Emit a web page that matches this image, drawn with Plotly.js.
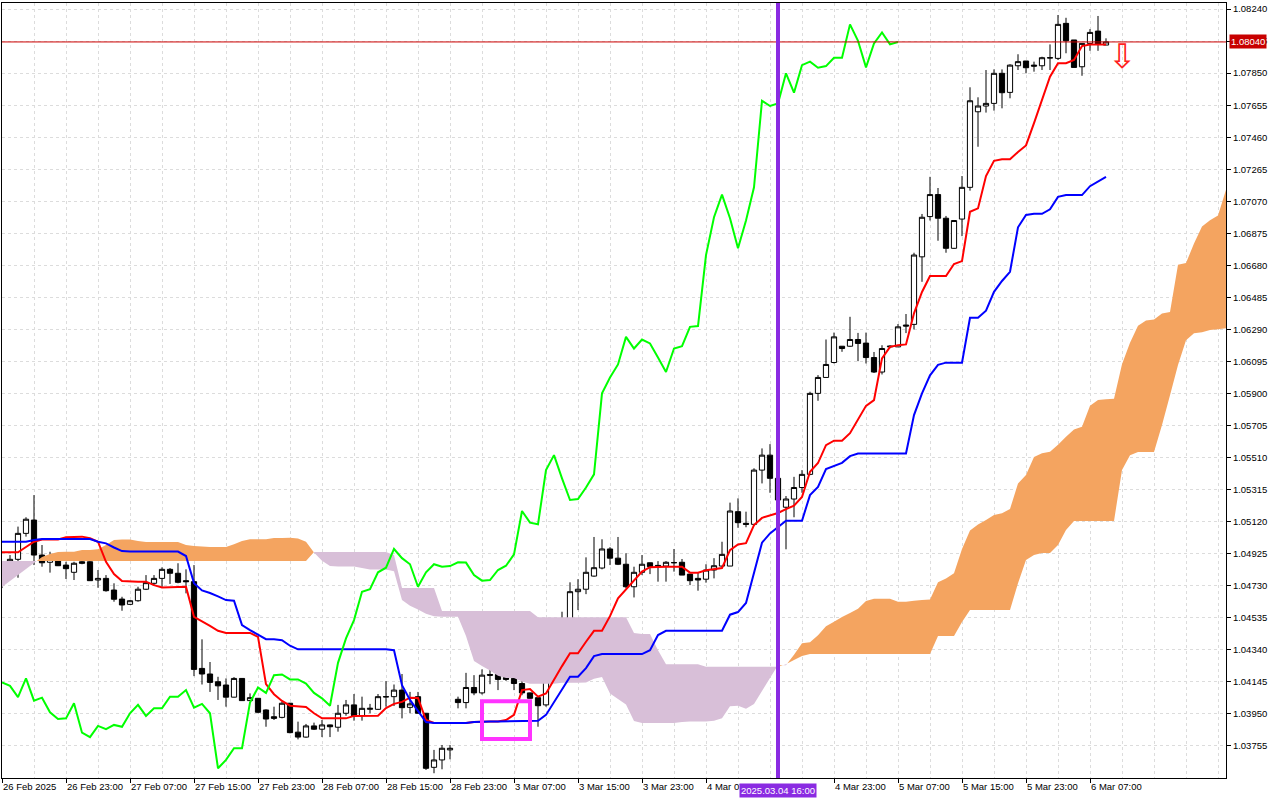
<!DOCTYPE html>
<html>
<head>
<meta charset="utf-8">
<script src="https://cdn.plot.ly/plotly-3.0.1.min.js"></script>
<style>
html,body{margin:0;padding:0;background:#ffffff;}
#chart{width:1280px;height:800px;}
</style>
</head>
<body>
<div id="chart"></div>
<script>
// ===== EURUSD H1 with Ichimoku =====
// bar index 0 = 26 Feb 2025 15:00, one bar per hour, weekend skipped
const xTickVals = [0,8,16,24,32,40,48,56,64,72,80,88,104,112,120,128,136];
const xTickText = ['26 Feb 2025','26 Feb 23:00','27 Feb 07:00','27 Feb 15:00','27 Feb 23:00','28 Feb 07:00','28 Feb 15:00','28 Feb 23:00','3 Mar 07:00','3 Mar 15:00','3 Mar 23:00','4 Mar 07:00','4 Mar 23:00','5 Mar 07:00','5 Mar 15:00','5 Mar 23:00','6 Mar 07:00'];
const yTickVals = [1.03755,1.03950,1.04145,1.04340,1.04535,1.04730,1.04925,1.05120,1.05315,1.05510,1.05705,1.05900,1.06095,1.06290,1.06485,1.06680,1.06875,1.07070,1.07265,1.07460,1.07655,1.07850,1.08045,1.08240];
const yTickText = ['1.03755','1.03950','1.04145','1.04340','1.04535','1.04730','1.04925','1.05120','1.05315','1.05510','1.05705','1.05900','1.06095','1.06290','1.06485','1.06680','1.06875','1.07070','1.07265','1.07460','1.07655','1.07850','1.08045','1.08240'];

const open = [1.04755,1.04826,1.04891,1.05049,1.05130,1.04917,1.04873,1.04903,1.04856,1.04812,
 1.04876,1.04876,1.04765,1.04775,1.04704,1.04649,1.04617,1.04639,1.04709,1.04745,
 1.04775,1.04830,1.04806,1.04761,1.04755,1.04227,1.04193,1.04146,1.04126,1.04052,
 1.04166,1.04031,1.04045,1.03974,1.03933,1.03929,1.04015,1.03839,1.03809,1.03877,
 1.03857,1.03883,1.03869,1.03954,1.04005,1.03939,1.03978,1.03978,1.04053,1.04055,
 1.04095,1.03990,1.04055,1.03954,1.03625,1.03670,1.03731,1.04039,1.04019,1.04111,
 1.04078,1.04184,1.04190,1.04172,1.04166,1.04135,1.04078,1.04049,1.04005,1.04264,
 1.04406,1.04511,1.04694,1.04709,1.04789,1.04838,1.04954,1.04898,1.04861,1.04724,
 1.04812,1.04870,1.04854,1.04850,1.04870,1.04873,1.04801,1.04775,1.04770,1.04826,
 1.04850,1.04850,1.05181,1.05110,1.05104,1.05434,1.05525,1.05384,1.05208,1.05258,
 1.05328,1.05408,1.05901,1.05998,1.06089,1.06188,1.06188,1.06229,1.06207,1.06119,
 1.06031,1.06184,1.06184,1.06317,1.06321,1.06732,1.06977,1.07111,1.06967,1.06784,
 1.06962,1.07155,1.07615,1.07650,1.07666,1.07849,1.07733,1.07895,1.07924,1.07899,
 1.07895,1.07942,1.07940,1.08153,1.08052,1.07889,1.08031,1.08106,1.08021];
const high = [1.04875,1.04917,1.05090,1.05147,1.05282,1.04978,1.04937,1.04905,1.04876,1.04876,
 1.04917,1.04880,1.04826,1.04795,1.04745,1.04663,1.04643,1.04724,1.04795,1.04795,
 1.04842,1.04838,1.04867,1.04830,1.04856,1.04404,1.04266,1.04176,1.04166,1.04174,
 1.04168,1.04075,1.04047,1.03978,1.03994,1.04025,1.04017,1.03903,1.03889,1.03897,
 1.03913,1.03885,1.04005,1.04035,1.04071,1.04055,1.04011,1.04071,1.04150,1.04129,
 1.04193,1.04084,1.04084,1.03956,1.03731,1.03761,1.03761,1.04055,1.04200,1.04186,
 1.04221,1.04217,1.04210,1.04200,1.04176,1.04150,1.04080,1.04050,1.04288,1.04441,
 1.04572,1.04751,1.04770,1.04903,1.05027,1.05013,1.04965,1.05027,1.04928,1.04846,
 1.04917,1.04871,1.04880,1.04880,1.04954,1.04893,1.04801,1.04812,1.04861,1.04898,
 1.04998,1.05236,1.05262,1.05181,1.05445,1.05566,1.05592,1.05434,1.05276,1.05393,
 1.05434,1.05911,1.06012,1.06229,1.06271,1.06188,1.06367,1.06269,1.06271,1.06153,
 1.06194,1.06194,1.06323,1.06384,1.06757,1.06993,1.07219,1.07151,1.06981,1.06956,
 1.07224,1.07764,1.07703,1.07869,1.07873,1.07873,1.07904,1.07965,1.07924,1.07920,
 1.07950,1.08025,1.08204,1.08187,1.08052,1.08031,1.08118,1.08198,1.08062];
const low = [1.04716,1.04806,1.04779,1.05029,1.04856,1.04846,1.04810,1.04850,1.04771,1.04765,
 1.04861,1.04759,1.04718,1.04694,1.04633,1.04578,1.04613,1.04633,1.04704,1.04729,
 1.04724,1.04741,1.04745,1.04684,1.04180,1.04129,1.04084,1.04035,1.03994,1.04050,
 1.04029,1.04029,1.03954,1.03872,1.03913,1.03923,1.03832,1.03795,1.03805,1.03852,
 1.03809,1.03809,1.03842,1.03939,1.03909,1.03909,1.03954,1.03974,1.03994,1.03998,
 1.03923,1.03954,1.03954,1.03609,1.03589,1.03613,1.03674,1.03984,1.03984,1.04064,
 1.04068,1.04131,1.04095,1.04151,1.04095,1.04064,1.04044,1.03872,1.03994,1.04258,
 1.04399,1.04505,1.04582,1.04679,1.04785,1.04830,1.04856,1.04856,1.04715,1.04659,
 1.04795,1.04801,1.04755,1.04755,1.04816,1.04795,1.04734,1.04700,1.04749,1.04775,
 1.04846,1.04850,1.05083,1.05086,1.05094,1.05353,1.05296,1.05222,1.04952,1.05147,
 1.05296,1.05403,1.05856,1.05998,1.06083,1.06154,1.06184,1.06097,1.06083,1.06025,
 1.06016,1.06176,1.06184,1.06268,1.06290,1.06580,1.06953,1.06830,1.06757,1.06780,
 1.06858,1.07135,1.07402,1.07610,1.07622,1.07636,1.07697,1.07869,1.07849,1.07859,
 1.07869,1.07869,1.07930,1.07971,1.07885,1.07834,1.07986,1.07986,1.08021];
const close = [1.04838,1.04891,1.05049,1.05135,1.04917,1.04870,1.04903,1.04852,1.04834,1.04867,
 1.04867,1.04761,1.04775,1.04700,1.04648,1.04613,1.04639,1.04709,1.04749,1.04775,
 1.04830,1.04806,1.04751,1.04755,1.04221,1.04193,1.04142,1.04121,1.04052,1.04166,
 1.04031,1.04049,1.03960,1.03919,1.03923,1.04015,1.03836,1.03809,1.03877,1.03857,
 1.03883,1.03872,1.03954,1.04005,1.03938,1.03984,1.03984,1.04055,1.04055,1.04095,
 1.03988,1.04011,1.03954,1.03619,1.03670,1.03741,1.03741,1.04019,1.04111,1.04078,
 1.04186,1.04190,1.04160,1.04160,1.04135,1.04078,1.04045,1.04000,1.04261,1.04410,
 1.04521,1.04694,1.04709,1.04812,1.04840,1.04954,1.04898,1.04861,1.04724,1.04812,
 1.04861,1.04846,1.04850,1.04873,1.04871,1.04795,1.04761,1.04765,1.04826,1.04852,
 1.04921,1.05185,1.05114,1.05104,1.05434,1.05525,1.05384,1.05252,1.05258,1.05328,
 1.05408,1.05901,1.05998,1.06077,1.06245,1.06174,1.06229,1.06205,1.06119,1.06031,
 1.06174,1.06188,1.06306,1.06311,1.06743,1.06973,1.07111,1.06967,1.06784,1.06953,
 1.07155,1.07682,1.07650,1.07666,1.07849,1.07731,1.07899,1.07920,1.07883,1.07893,
 1.07944,1.07944,1.08147,1.08047,1.07885,1.08031,1.08098,1.08025,1.08040];

// Tenkan-sen (red) and Kijun-sen (blue), one value per bar
const tenkan = [1.04934,1.04934,1.04934,1.04966,1.04998,1.05012,1.05012,1.05012,1.05025,1.05025,
 1.05029,1.05019,1.04998,1.04876,1.04801,1.04759,1.04755,1.04755,1.04755,1.04734,
 1.04720,1.04720,1.04720,1.04724,1.04541,1.04515,1.04486,1.04456,1.04443,1.04443,
 1.04443,1.04443,1.04419,1.04131,1.04070,1.04029,1.04000,1.03994,1.03992,1.03954,
 1.03923,1.03923,1.03923,1.03923,1.03938,1.03938,1.03938,1.03939,1.03986,1.04011,
 1.04023,1.04049,1.04047,1.03913,1.03895,1.03895,1.03895,1.03895,1.03895,1.03901,
 1.03904,1.03904,1.03904,1.03913,1.03944,1.04095,1.04101,1.04055,1.04075,1.04162,
 1.04241,1.04319,1.04319,1.04389,1.04456,1.04456,1.04545,1.04654,1.04709,1.04767,
 1.04816,1.04843,1.04846,1.04846,1.04846,1.04846,1.04810,1.04810,1.04824,1.04832,
 1.04838,1.04947,1.04981,1.04989,1.05100,1.05143,1.05157,1.05173,1.05197,1.05217,
 1.05270,1.05424,1.05477,1.05586,1.05613,1.05613,1.05659,1.05738,1.05825,1.05860,
 1.06114,1.06184,1.06194,1.06199,1.06388,1.06518,1.06615,1.06615,1.06615,1.06688,
 1.06706,1.07006,1.07027,1.07224,1.07316,1.07326,1.07326,1.07370,1.07410,1.07546,
 1.07688,1.07828,1.07910,1.07911,1.07930,1.08015,1.08024,1.08025,1.08025];
const kijun = [1.04998,1.04998,1.04998,1.04998,1.05008,1.05014,1.05014,1.05014,1.05014,1.05014,
 1.05014,1.05014,1.04998,1.04988,1.04963,1.04941,1.04938,1.04938,1.04938,1.04938,
 1.04938,1.04938,1.04938,1.04911,1.04746,1.04702,1.04686,1.04665,1.04643,1.04639,
 1.04491,1.04460,1.04430,1.04405,1.04404,1.04399,1.04365,1.04343,1.04343,1.04343,
 1.04343,1.04343,1.04343,1.04343,1.04343,1.04343,1.04343,1.04343,1.04343,1.04338,
 1.04125,1.04035,1.03968,1.03901,1.03895,1.03895,1.03895,1.03895,1.03895,1.03901,
 1.03904,1.03904,1.03904,1.03904,1.03904,1.03904,1.03904,1.03908,1.03944,1.04019,
 1.04095,1.04176,1.04176,1.04229,1.04302,1.04314,1.04314,1.04314,1.04314,1.04314,
 1.04314,1.04338,1.04430,1.04456,1.04456,1.04456,1.04456,1.04456,1.04456,1.04456,
 1.04456,1.04554,1.04570,1.04625,1.04807,1.04992,1.05049,1.05090,1.05126,1.05126,
 1.05126,1.05282,1.05332,1.05440,1.05461,1.05478,1.05519,1.05535,1.05535,1.05535,
 1.05535,1.05535,1.05535,1.05535,1.05769,1.05901,1.06011,1.06075,1.06088,1.06088,
 1.06088,1.06361,1.06361,1.06404,1.06519,1.06585,1.06641,1.06912,1.06987,1.06994,
 1.06994,1.07021,1.07097,1.07108,1.07108,1.07108,1.07162,1.07193,1.07219];

// Senkou Span A / B as displayed (already shifted 26 bars ahead), bars 0..154
const senkouA = [1.04722,1.04759,1.04795,1.04832,1.04868,1.04905,1.04923,1.04935,1.04937,1.04937,
 1.04947,1.04947,1.04953,1.04978,1.05008,1.05012,1.05012,1.05002,1.04996,1.04996,
 1.04996,1.04996,1.04996,1.04978,1.04972,1.04969,1.04966,1.04966,1.04966,1.04983,
 1.05003,1.05013,1.05013,1.05013,1.05020,1.05020,1.05022,1.05017,1.04998,1.04932,
 1.04882,1.04850,1.04847,1.04847,1.04847,1.04838,1.04829,1.04829,1.04829,1.04818,
 1.04644,1.04609,1.04586,1.04560,1.04544,1.04541,1.04541,1.04541,1.04425,1.04272,
 1.04241,1.04214,1.04182,1.04168,1.04168,1.04148,1.04133,1.04133,1.04133,1.04133,
 1.04140,1.04140,1.04140,1.04141,1.04164,1.04174,1.04074,1.04041,1.04007,1.03907,
 1.03895,1.03895,1.03895,1.03895,1.03895,1.03901,1.03904,1.03904,1.03904,1.03908,
 1.03923,1.03996,1.03999,1.03982,1.04011,1.04090,1.04168,1.04247,1.04247,1.04310,
 1.04380,1.04386,1.04429,1.04484,1.04511,1.04540,1.04565,1.04590,1.04638,1.04651,
 1.04651,1.04651,1.04633,1.04633,1.04639,1.04644,1.04646,1.04751,1.04775,1.04806,
 1.04954,1.05067,1.05103,1.05131,1.05161,1.05172,1.05198,1.05353,1.05404,1.05513,
 1.05537,1.05545,1.05589,1.05637,1.05681,1.05698,1.05825,1.05860,1.05865,1.05868,
 1.06078,1.06209,1.06312,1.06345,1.06351,1.06387,1.06396,1.06684,1.06694,1.06813,
 1.06917,1.06954,1.06983,1.07140,1.07198];
const senkouB = [1.04881,1.04881,1.04881,1.04881,1.04881,1.04881,1.04881,1.04881,1.04881,1.04881,
 1.04881,1.04881,1.04881,1.04881,1.04881,1.04881,1.04881,1.04881,1.04881,1.04881,
 1.04881,1.04881,1.04881,1.04881,1.04881,1.04881,1.04881,1.04881,1.04881,1.04881,
 1.04881,1.04881,1.04881,1.04881,1.04881,1.04881,1.04881,1.04881,1.04881,1.04935,
 1.04935,1.04935,1.04935,1.04935,1.04935,1.04935,1.04935,1.04935,1.04935,1.04917,
 1.04716,1.04716,1.04716,1.04716,1.04716,1.04576,1.04576,1.04576,1.04576,1.04576,
 1.04576,1.04576,1.04576,1.04576,1.04576,1.04576,1.04576,1.04539,1.04539,1.04539,
 1.04539,1.04539,1.04539,1.04539,1.04539,1.04539,1.04539,1.04539,1.04539,1.04443,
 1.04436,1.04436,1.04338,1.04253,1.04253,1.04253,1.04253,1.04253,1.04237,1.04237,
 1.04237,1.04237,1.04237,1.04237,1.04237,1.04237,1.04237,1.04237,1.04253,1.04278,
 1.04302,1.04314,1.04314,1.04314,1.04314,1.04314,1.04314,1.04314,1.04314,1.04314,
 1.04314,1.04314,1.04314,1.04314,1.04314,1.04314,1.04314,1.04424,1.04424,1.04424,
 1.04509,1.04582,1.04582,1.04582,1.04582,1.04582,1.04582,1.04745,1.04887,1.04917,
 1.04929,1.04929,1.04978,1.05069,1.05124,1.05124,1.05124,1.05124,1.05124,1.05124,
 1.05434,1.05525,1.05544,1.05544,1.05544,1.05708,1.05890,1.06073,1.06225,1.06267,
 1.06273,1.06286,1.06291,1.06298,1.06304];

// Chikou span = closes drawn 26 bars back
const chikouShift = 26;
const chikou = close.slice(chikouShift);

// objects on the chart
const bidPrice = 1.08040;
const bidLabel = '1.08040';
const markerBar = 97;
const markerLabel = '2025.03.04 16:00';
const rectBars = [60, 66];
const rectPrices = [1.03797, 1.04027];
const arrowBar = 140;
const arrowPrice = 1.07957;

// ===== drawing =====
const barX = close.map((_, i) => i);
const cloudX = senkouA.map((_, i) => i);
const chikouX = chikou.map((_, i) => i);

function cloudPolygons(xs, a, b) {
  const out = [];
  let cx = [xs[0]], ca = [a[0]], cb = [b[0]];
  let up = a[0] >= b[0];
  for (let i = 1; i < xs.length; i++) {
    const u = a[i] >= b[i];
    if (u !== up) {
      const d0 = a[i-1] - b[i-1], d1 = a[i] - b[i];
      const t = d0 / (d0 - d1);
      const xc = xs[i-1] + t * (xs[i] - xs[i-1]);
      const yc = a[i-1] + t * (a[i] - a[i-1]);
      cx.push(xc); ca.push(yc); cb.push(yc);
      out.push({x: cx, a: ca, b: cb, up: up});
      cx = [xc]; ca = [yc]; cb = [yc]; up = u;
    }
    cx.push(xs[i]); ca.push(a[i]); cb.push(b[i]);
  }
  out.push({x: cx, a: ca, b: cb, up: up});
  return out;
}

const traces = [];
cloudPolygons(cloudX, senkouA, senkouB).forEach(p => {
  traces.push({
    type: 'scatter', mode: 'none',
    x: p.x.concat(p.x.slice().reverse()),
    y: p.a.concat(p.b.slice().reverse()),
    fill: 'toself', fillcolor: p.up ? '#f4a460' : '#d8bfd8',
    hoverinfo: 'skip', showlegend: false
  });
});

traces.push({
  type: 'candlestick', x: barX, open: open, high: high, low: low, close: close,
  increasing: {line: {color: '#000000', width: 1}, fillcolor: '#ffffff'},
  decreasing: {line: {color: '#000000', width: 1}, fillcolor: '#000000'},
  whiskerwidth: 0, hoverinfo: 'skip', showlegend: false
});

traces.push({type: 'scatter', mode: 'lines', x: barX, y: tenkan,
  line: {color: '#ff0000', width: 2}, hoverinfo: 'skip', showlegend: false});
traces.push({type: 'scatter', mode: 'lines', x: barX, y: kijun,
  line: {color: '#0000ff', width: 2}, hoverinfo: 'skip', showlegend: false});
traces.push({type: 'scatter', mode: 'lines', x: chikouX, y: chikou,
  line: {color: '#00ff00', width: 2}, hoverinfo: 'skip', showlegend: false});

const gridColor = '#dcdcdc';
const fontFam = '"Liberation Sans", Arial, sans-serif';

const layout = {
  width: 1280, height: 800,
  margin: {l: 2, r: 54, t: 3, b: 22, pad: 0},
  paper_bgcolor: '#ffffff', plot_bgcolor: '#ffffff',
  showlegend: false,
  font: {family: fontFam, size: 9.5, color: '#000000'},
  boxgap: 0.35, boxgroupgap: 0,
  xaxis: {
    type: 'linear', range: [0, 153],
    tickmode: 'array', tickvals: xTickVals, ticktext: xTickText,
    tickangle: 0, automargin: false,
    ticks: 'outside', ticklen: 4, tickwidth: 1, tickcolor: '#000000',
    ticklabelposition: 'outside right',
    showgrid: true, gridcolor: gridColor, gridwidth: 1, griddash: '3px,3px',
    minor: {tickmode: 'linear', tick0: 0, dtick: 4, showgrid: true,
            gridcolor: gridColor, gridwidth: 1, griddash: '3px,3px', ticks: ''},
    showline: true, mirror: true, linecolor: '#000000', linewidth: 1,
    zeroline: false, rangeslider: {visible: false}, fixedrange: true,
    tickfont: {family: fontFam, size: 9.5, color: '#000000'}
  },
  yaxis: {
    side: 'right', range: [1.03560, 1.08277], automargin: false,
    tickmode: 'array', tickvals: yTickVals, ticktext: yTickText,
    ticks: 'outside', ticklen: 4, tickwidth: 1, tickcolor: '#000000',
    showgrid: true, gridcolor: gridColor, gridwidth: 1, griddash: '3px,3px',
    showline: true, mirror: true, linecolor: '#000000', linewidth: 1,
    zeroline: false, fixedrange: true,
    tickfont: {family: fontFam, size: 9.5, color: '#000000'}
  },
  shapes: [
    {type: 'line', xref: 'paper', x0: 0, x1: 1, yref: 'y', y0: bidPrice, y1: bidPrice,
     line: {color: '#cc0000', width: 1}, layer: 'above'},
    {type: 'rect', xref: 'x', x0: rectBars[0], x1: rectBars[1], yref: 'y', y0: rectPrices[0], y1: rectPrices[1],
     line: {color: '#ff33ff', width: 4}, fillcolor: 'rgba(0,0,0,0)', layer: 'above'},
    {type: 'line', xref: 'x', x0: markerBar, x1: markerBar, yref: 'paper', y0: 0, y1: 1,
     line: {color: '#8a2be2', width: 4}, layer: 'above'}
  ],
  annotations: [
    {xref: 'paper', x: 1, xanchor: 'left', xshift: 3, yref: 'y', y: bidPrice, yanchor: 'middle',
     text: bidLabel, showarrow: false, bgcolor: '#c80000', borderpad: 1,
     font: {family: fontFam, size: 9.5, color: '#ffffff'}},
    {xref: 'x', x: markerBar, xanchor: 'center', yref: 'paper', y: 0, yanchor: 'top', yshift: -5,
     text: markerLabel, showarrow: false, bgcolor: '#8a2be2', borderpad: 1,
     font: {family: fontFam, size: 9.5, color: '#ffffff'}},
    {xref: 'x', x: arrowBar, xanchor: 'center', yref: 'y', y: arrowPrice, yanchor: 'middle',
     text: '\u21E9', showarrow: false,
     font: {family: '"DejaVu Sans", sans-serif', size: 34, color: '#ff2020'}}
  ]
};

Plotly.newPlot('chart', traces, layout, {staticPlot: true, displayModeBar: false});
</script>
</body>
</html>
